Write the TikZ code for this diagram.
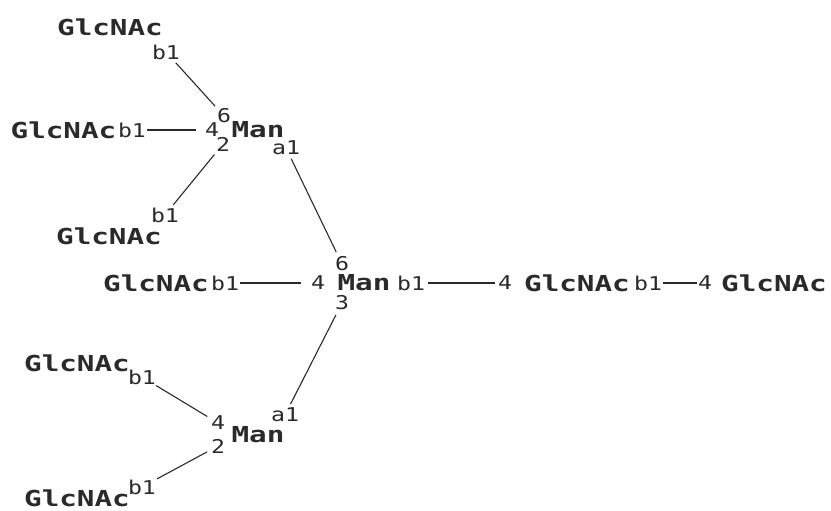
\documentclass[tikz,border=0pt]{standalone}
\usepackage{fontspec}
\newfontfamily\namefont[FakeStretch=1.33]{DejaVu Sans Mono}
\newfontfamily\numfont[FakeStretch=1.22]{DejaVu Sans Mono}
\definecolor{ink}{HTML}{2A2A2A}
\tikzset{
  sugar/.style={inner sep=1pt, text=ink, font={\fontsize{22}{23}\namefont\bfseries}},
  linkpos/.style={inner sep=1pt, text=ink, font={\fontsize{19}{20}\numfont}},
  bond/.style={draw=ink, line width=1.1pt}
}
\begin{document}
\begin{tikzpicture}[x=1pt,y=-1pt]
\useasboundingbox (0,0) rectangle (831,511);
% upper branch
\node[sugar] (t1) at (110,27) {GlcNAc};
\node[linkpos] (t1b) at (166,52) {b1};
\node[linkpos] (m1six) at (224,116) {6};
\node[linkpos] (m1four) at (212,130) {4};
\node[sugar] (m1) at (258,130) {Man};
\node[linkpos] (m1two) at (223,144) {2};
\node[sugar] (l1) at (63.5,130) {GlcNAc};
\node[linkpos] (l1b) at (132,130) {b1};
\node[linkpos] (m1a) at (286,148) {a1};
\node[linkpos] (t3b) at (165,215) {b1};
\node[sugar] (t3) at (109,236) {GlcNAc};
% core row
\node[linkpos] (msix) at (342,264) {6};
\node[sugar] (l2) at (156,283) {GlcNAc};
\node[linkpos] (l2b) at (225,283) {b1};
\node[linkpos] (mfour) at (318,283) {4};
\node[sugar] (m) at (364,283) {Man};
\node[linkpos] (mb) at (411,283) {b1};
\node[linkpos] (gafour) at (505,283) {4};
\node[sugar] (ga) at (577,283) {GlcNAc};
\node[linkpos] (gab) at (648,283) {b1};
\node[linkpos] (gbfour) at (705,283) {4};
\node[sugar] (gb) at (774,283) {GlcNAc};
\node[linkpos] (mthree) at (342,303) {3};
% lower branch
\node[linkpos] (m2a) at (285,415) {a1};
\node[linkpos] (m2four) at (218,423) {4};
\node[sugar] (m2) at (258,435) {Man};
\node[linkpos] (m2two) at (218,446) {2};
\node[sugar] (b1n) at (77,363) {GlcNAc};
\node[linkpos] (bb1) at (142,377) {b1};
\node[linkpos] (b2b) at (142,487) {b1};
\node[sugar] (b2n) at (77,498) {GlcNAc};
% bonds
\draw[bond, shorten <=3pt, shorten >=2pt] (t1b) -- (m1six);
\draw[bond, shorten >=8pt] (l1b) -- (m1four);
\draw[bond, shorten <=3pt, shorten >=4pt] (m1a) -- (msix);
\draw[bond, shorten <=3pt, shorten >=2pt] (m1two) -- (t3b);
\draw[bond, shorten >=9pt] (l2b) -- (mfour);
\draw[bond, shorten <=2pt, shorten >=2pt] (mb) -- (gafour);
\draw[bond] (gab) -- (gbfour);
\draw[bond, shorten <=4pt, shorten >=3pt] (mthree) -- (m2a);
\draw[bond, shorten >=3pt] (bb1) -- (m2four);
\draw[bond, shorten <=3pt] (m2two) -- (b2b);
\end{tikzpicture}
\end{document}
